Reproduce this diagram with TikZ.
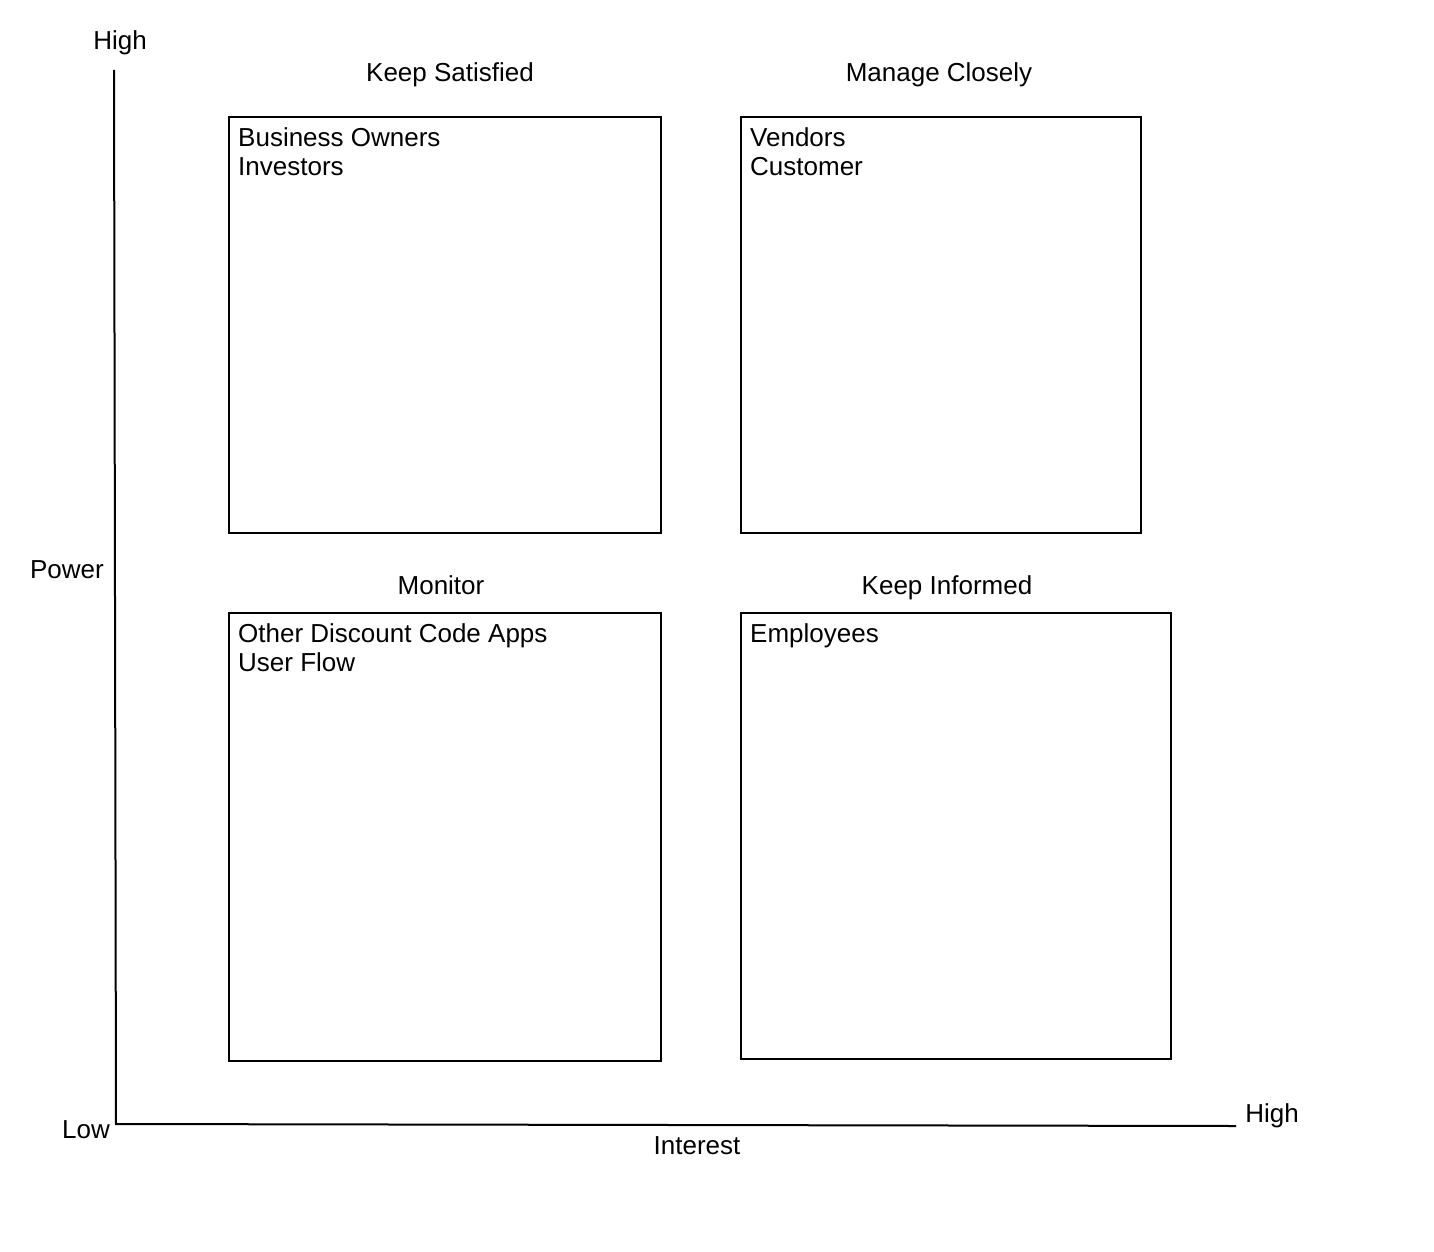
\documentclass[tikz,border=0pt]{standalone}
\usepackage{fontspec}
\setmainfont{Liberation Sans}
\begin{document}
\begin{tikzpicture}[x=1pt,y=-1pt,
  every node/.style={font=\fontsize{26}{29.5}\selectfont, inner sep=0pt},
  quad/.style={draw, line width=2pt, anchor=north west},
  lbl/.style={anchor=base},
  items/.style={anchor=north west, align=left}]
\useasboundingbox (0,0) rectangle (1434,1252);
% axes
\coordinate (ytop) at (114,70);
\coordinate (orig) at (116,1124);
\coordinate (xend) at (1236,1126);
\draw[line width=2pt] (ytop) -- (orig) -- (xend);
% boxes
\node[quad, minimum width=432pt, minimum height=416pt] (ks) at (228,116) {};
\node[quad, minimum width=400pt, minimum height=416pt] (mc) at (740,116) {};
\node[quad, minimum width=432pt, minimum height=448pt] (mo) at (228,612) {};
\node[quad, minimum width=430pt, minimum height=446pt] (ki) at (740,612) {};
% titles
\node[lbl] (tks) at (450,82) {Keep Satisfied};
\node[lbl] (tmc) at (939,82) {Manage Closely};
\node[lbl] (tmo) at (441,594) {Monitor};
\node[lbl] (tki) at (947,594) {Keep Informed};
% items
\node[items] (iks) at (238,127) {Business Owners\\Investors};
\node[items] (imc) at (750,127) {Vendors\\Customer};
\node[items] (imo) at (238,623) {Other Discount Code Apps\\User Flow};
\node[items] (iki) at (750,623) {Employees};
% axis labels
\node[lbl] (yhigh) at (120,50) {High};
\node[lbl] (power) at (67,578) {Power};
\node[lbl] (low) at (86,1138) {Low};
\node[lbl] (xhigh) at (1272,1122) {High};
\node[lbl] (interest) at (697,1154) {Interest};
\end{tikzpicture}
\end{document}
